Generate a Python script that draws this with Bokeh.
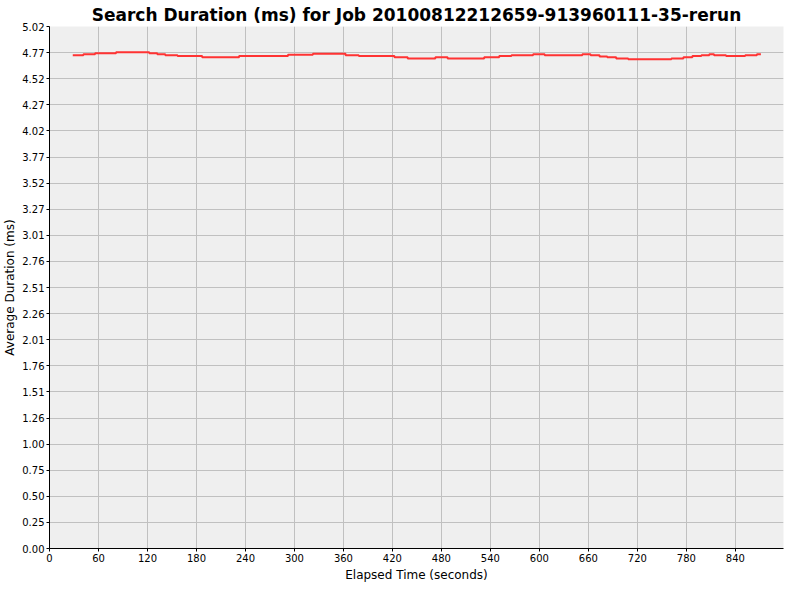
from bokeh.plotting import figure
from bokeh.models import Range1d, FixedTicker
from bokeh.embed import file_html
from bokeh.resources import INLINE

title_text = "Search Duration (ms) for Job 20100812212659-913960111-35-rerun"
x_label = "Elapsed Time (seconds)"
y_label = "Average Duration (ms)"

# step series: each value holds from its time until the next time
elapsed_s = [28.5, 41.5, 55.8, 81.5, 122.2, 132.0, 141.8, 156.8, 187.0, 232.2,
             292.1, 322.6, 362.6, 378.8, 422.5, 438.7, 472.6, 487.6, 532.4, 550.8,
             565.8, 592.3, 606.5, 652.6, 662.7, 673.7, 683.1, 694.1, 708.8, 761.7,
             776.4, 787.4, 798.4, 808.1, 813.9, 828.6, 852.1, 866.4, 871.3]
avg_ms = [4.747, 4.757, 4.766, 4.776, 4.766, 4.757, 4.747, 4.738, 4.728, 4.738,
          4.751, 4.760, 4.747, 4.738, 4.726, 4.716, 4.726, 4.716, 4.726, 4.738,
          4.747, 4.757, 4.747, 4.757, 4.747, 4.735, 4.726, 4.716, 4.707, 4.716,
          4.728, 4.738, 4.747, 4.757, 4.747, 4.738, 4.747, 4.757, 4.757]

x_ticks = [0, 60, 120, 180, 240, 300, 360, 420, 480, 540, 600, 660, 720, 780, 840]
x_max = 899
y_max = 5.023
y_tick_labels = ["0.00", "0.25", "0.50", "0.75", "1.00", "1.26", "1.51", "1.76",
                 "2.01", "2.26", "2.51", "2.76", "3.01", "3.27", "3.52", "3.77",
                 "4.02", "4.27", "4.52", "4.77", "5.02"]
n_steps = len(y_tick_labels) - 1
y_ticks = [y_max * i / n_steps for i in range(len(y_tick_labels))]

p = figure(width=784, height=584, output_backend="svg", toolbar_location=None,
           x_range=Range1d(0, x_max), y_range=Range1d(0, y_max),
           min_border_left=0, min_border_right=1, min_border_top=0, min_border_bottom=0)

p.title.text = title_text
p.title.align = "center"
p.title.text_font = "DejaVu Sans"
p.title.text_font_size = "17px"
p.title.text_font_style = "bold"
p.title.text_color = "#000000"
p.title.standoff = 4
p.title.offset = 0

p.background_fill_color = "#EFEFEF"
p.border_fill_color = "#FFFFFF"
p.outline_line_color = None

p.xgrid.ticker = FixedTicker(ticks=x_ticks)
p.ygrid.ticker = FixedTicker(ticks=y_ticks)
for g in (p.xgrid, p.ygrid):
    g.grid_line_color = "#C0C0C0"
    g.grid_line_width = 1

p.xaxis.ticker = FixedTicker(ticks=x_ticks)
p.yaxis.ticker = FixedTicker(ticks=y_ticks)
p.yaxis.major_label_overrides = {t: lab for t, lab in zip(y_ticks, y_tick_labels)}
p.xaxis.axis_label = x_label
p.yaxis.axis_label = y_label

for ax in (p.xaxis, p.yaxis):
    ax.axis_line_color = "#000000"
    ax.axis_line_width = 1
    ax.major_tick_line_color = "#000000"
    ax.major_tick_out = 3
    ax.major_tick_in = 0
    ax.minor_tick_line_color = None
    ax.major_label_text_font = "DejaVu Sans"
    ax.major_label_text_font_size = "10px"
    ax.major_label_text_color = "#000000"
    ax.axis_label_text_font = "DejaVu Sans"
    ax.axis_label_text_font_size = "12px"
    ax.axis_label_text_font_style = "normal"
    ax.axis_label_text_color = "#000000"
    ax.major_label_standoff = 2
    ax.axis_label_standoff = 3

p.yaxis.axis_label_standoff = 2

p.step(elapsed_s, avg_ms, mode="after", line_color="#FF3333", line_width=2)

open("out.html", "w").write(file_html(p, INLINE))
